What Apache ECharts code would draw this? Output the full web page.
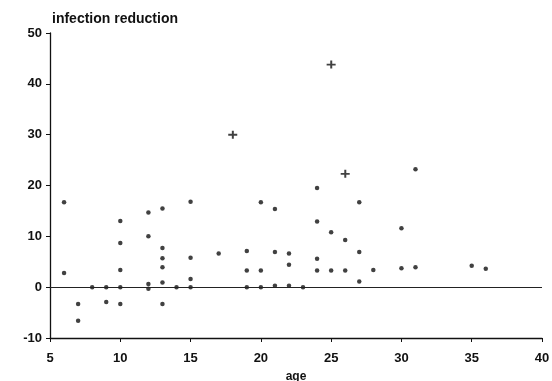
<!DOCTYPE html>
<html>
<head>
<meta charset="utf-8">
<script src="https://cdn.jsdelivr.net/npm/echarts@6/dist/echarts.min.js"></script>
<style>
html,body{margin:0;padding:0;background:#fff;}
#c{width:552px;height:381px;}
</style>
</head>
<body>
<div id="c"></div>
<script>
// Dot observations: age and infection reduction
const dotAges = [6, 6, 7, 7, 8, 9, 9, 10, 10, 10, 10, 10, 12, 12, 12, 12, 13, 13, 13, 13, 13, 13, 14, 15, 15, 15, 15,
  17, 19, 19, 19, 20, 20, 20, 21, 21, 21, 22, 22, 22, 23, 24, 24, 24, 24, 25, 25, 26, 26, 27, 27, 27, 28, 30, 30, 31, 31, 35, 36];
const dotValues = [16.7, 2.8, -3.3, -6.6, 0, 0, -2.9, 13.0, 8.7, 3.4, 0, -3.3, 14.7, 10.0, 0.6, -0.3, 15.5, 7.7, 5.7, 3.9, 0.9, -3.3, 0, 16.8, 5.8, 1.6, 0,
  6.6, 7.1, 3.3, 0, 16.7, 3.3, 0, 15.4, 6.9, 0.3, 6.6, 4.4, 0.3, 0, 19.5, 12.9, 5.6, 3.3, 10.8, 3.3, 9.3, 3.3, 16.7, 6.9, 1.1, 3.4, 11.6, 3.7, 23.2, 3.9, 4.2, 3.6];
// Cross-marked observations
const crossAges = [18, 25, 26];
const crossValues = [30.0, 43.8, 22.3];
// Axis ticks
const xTicks = [5, 10, 15, 20, 25, 30, 35, 40];
const yTicks = [-10, 0, 10, 20, 30, 40, 50];

const dots = dotAges.map((a, i) => [a, dotValues[i]]);
const crosses = crossAges.map((a, i) => [a, crossValues[i]]);

const ink = '#111';
const font = '"Liberation Sans", Arial, sans-serif';

const chart = echarts.init(document.getElementById('c'));
chart.setOption({
  backgroundColor: '#fff',
  animation: false,
  grid: { left: 50, right: 10, top: 33, bottom: 43, containLabel: false, outerBoundsMode: 'none' },
  title: {
    text: 'infection reduction',
    left: 47, top: 7,
    textStyle: { fontFamily: font, fontSize: 14, fontWeight: 'bold', color: ink }
  },
  xAxis: {
    type: 'value', min: xTicks[0], max: xTicks[xTicks.length - 1], interval: 5,
    name: 'age', nameLocation: 'middle', nameGap: 33,
    nameTextStyle: { fontFamily: font, fontSize: 12, fontWeight: 'bold', color: ink },
    axisLine: { onZero: false, lineStyle: { color: ink, width: 1.3 } },
    axisTick: { show: true, length: 4, lineStyle: { color: ink } },
    axisLabel: { fontFamily: font, fontSize: 13, fontWeight: 'bold', color: ink, margin: 14 },
    splitLine: { show: false }
  },
  yAxis: {
    type: 'value', min: yTicks[0], max: yTicks[yTicks.length - 1], interval: 10,
    axisLine: { show: true, lineStyle: { color: ink, width: 1.3 } },
    axisTick: { show: true, length: 4, lineStyle: { color: ink } },
    axisLabel: { fontFamily: font, fontSize: 13, fontWeight: 'bold', color: ink, margin: 8 },
    splitLine: { show: false }
  },
  series: [
    {
      type: 'scatter',
      data: dots,
      symbol: 'circle',
      symbolSize: 4.5,
      itemStyle: { color: ink },
      markLine: {
        silent: true,
        symbol: 'none',
        label: { show: false },
        lineStyle: { color: '#222', width: 1.2, type: 'solid' },
        data: [{ yAxis: 0 }]
      }
    },
    {
      type: 'scatter',
      data: crosses,
      symbol: 'path://M0,4 L10,4 L10,6.2 L0,6.2 Z M4,0 L6.2,0 L6.2,10 L4,10 Z',
      symbolSize: [9, 8],
      itemStyle: { color: ink }
    }
  ]
});
</script>
</body>
</html>
